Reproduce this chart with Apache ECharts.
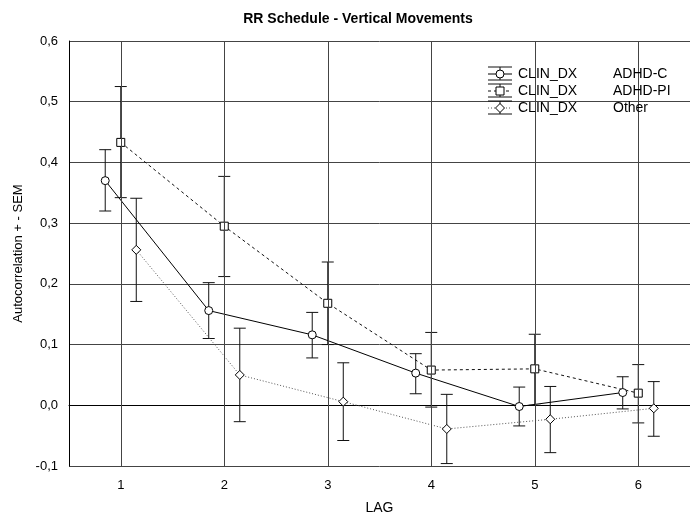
<!DOCTYPE html>
<html>
<head>
<meta charset="utf-8">
<script src="https://cdn.jsdelivr.net/npm/echarts@6/dist/echarts.min.js"></script>
<style>html,body{margin:0;padding:0;background:#fff}#c{width:690px;height:520px}</style>
</head>
<body>
<div id="c"></div>
<script>
const lags = [1, 2, 3, 4, 5, 6];
const yTicks = [-0.1, 0, 0.1, 0.2, 0.3, 0.4, 0.5, 0.6];
const legendVar = 'CLIN_DX';
const groups = ['ADHD-C', 'ADHD-PI', 'Other'];

const adhdC     = [0.370, 0.156, 0.116, 0.053, -0.002, 0.021];
const adhdCHigh = [0.421, 0.202, 0.153, 0.085, 0.030, 0.047];
const adhdCLow  = [0.320, 0.110, 0.078, 0.019, -0.034, -0.006];

const adhdPI     = [0.433, 0.295, 0.168, 0.058, 0.060, 0.020];
const adhdPIHigh = [0.525, 0.377, 0.236, 0.120, 0.117, 0.067];
const adhdPILow  = [0.342, 0.212, 0.100, -0.003, 0.000, -0.029];

const other     = [0.256, 0.050, 0.006, -0.039, -0.023, -0.005];
const otherHigh = [0.341, 0.127, 0.070, 0.018, 0.031, 0.039];
const otherLow  = [0.171, -0.027, -0.058, -0.096, -0.078, -0.051];

const FONT = 'Liberation Sans, Arial, sans-serif';
const seriesDefs = [
  {name: groups[0], mean: adhdC, hi: adhdCHigh, lo: adhdCLow, off: -0.15, symbol: 'circle', size: 8, dash: 'solid', lineColor: '#000'},
  {name: groups[1], mean: adhdPI, hi: adhdPIHigh, lo: adhdPILow, off: 0, symbol: 'rect', size: 8, dash: [3, 3], lineColor: '#111'},
  {name: groups[2], mean: other, hi: otherHigh, lo: otherLow, off: 0.15, symbol: 'diamond', size: 9, dash: [1, 2], lineColor: '#555'}
];

const series = [];
// vertical grid lines
series.push({
  type: 'scatter', data: [], z: 1, silent: true,
  markLine: {
    silent: true, symbol: 'none', animation: false,
    label: {show: false},
    lineStyle: {color: '#444', type: 'solid', width: 1},
    data: lags.map(v => ({xAxis: v}))
  }
});

seriesDefs.forEach(d => {
  series.push({
    type: 'custom', name: legendVar + ' ' + d.name, z: 2, silent: true,
    data: lags.map((l, i) => [l + d.off, d.lo[i], d.hi[i]]),
    encode: {x: 0, y: [1, 2]},
    renderItem: function (params, api) {
      const x = api.value(0);
      const lo = api.coord([x, api.value(1)]);
      const hi = api.coord([x, api.value(2)]);
      const hw = 6;
      const st = {stroke: '#111', lineWidth: 1};
      return {
        type: 'group',
        children: [
          {type: 'line', shape: {x1: lo[0], y1: lo[1], x2: hi[0], y2: hi[1]}, style: st},
          {type: 'line', shape: {x1: lo[0] - hw, y1: lo[1], x2: lo[0] + hw, y2: lo[1]}, style: st},
          {type: 'line', shape: {x1: hi[0] - hw, y1: hi[1], x2: hi[0] + hw, y2: hi[1]}, style: st}
        ]
      };
    }
  });
  series.push({
    type: 'line', name: legendVar + ' ' + d.name, z: 3,
    data: lags.map((l, i) => [l + d.off, d.mean[i]]),
    symbol: d.symbol, symbolSize: d.size, showSymbol: true,
    itemStyle: {color: '#fff', borderColor: '#000', borderWidth: 1},
    lineStyle: {color: d.lineColor, width: 1, type: d.dash},
    emphasis: {disabled: true}
  });
});

// legend drawn as graphic
const legendEls = [];
const lx = 500, ly0 = 74, lstep = 17;
seriesDefs.forEach((d, i) => {
  const cy = ly0 + i * lstep;
  const st = {stroke: '#111', lineWidth: 1};
  legendEls.push({type: 'line', shape: {x1: lx - 12, y1: cy - 7, x2: lx + 12, y2: cy - 7}, style: st, z: 10});
  legendEls.push({type: 'line', shape: {x1: lx - 12, y1: cy + 6, x2: lx + 12, y2: cy + 6}, style: st, z: 10});
  legendEls.push({type: 'line', shape: {x1: lx, y1: cy - 7, x2: lx, y2: cy + 6}, style: st, z: 10});
  legendEls.push({type: 'line', shape: {x1: lx - 12, y1: cy, x2: lx + 12, y2: cy},
    style: {stroke: d.lineColor, lineWidth: 1, lineDash: d.dash === 'solid' ? null : d.dash}, z: 10});
  let sym;
  if (d.symbol === 'circle') sym = {type: 'circle', shape: {cx: lx, cy: cy, r: 4}};
  else if (d.symbol === 'rect') sym = {type: 'rect', shape: {x: lx - 4, y: cy - 4, width: 8, height: 8}};
  else sym = {type: 'polygon', shape: {points: [[lx, cy - 4.5], [lx + 4.5, cy], [lx, cy + 4.5], [lx - 4.5, cy]]}};
  sym.style = {fill: '#fff', stroke: '#000', lineWidth: 1};
  sym.z = 11;
  legendEls.push(sym);
  legendEls.push({type: 'text', x: 518, y: cy, z: 11,
    style: {text: legendVar, font: '14px ' + FONT, fill: '#000', verticalAlign: 'middle', align: 'left'}});
  legendEls.push({type: 'text', x: 613, y: cy, z: 11,
    style: {text: d.name, font: '14px ' + FONT, fill: '#000', verticalAlign: 'middle', align: 'left'}});
});

const chart = echarts.init(document.getElementById('c'), null, {renderer: 'canvas'});
chart.setOption({
  animation: false,
  backgroundColor: '#fff',
  title: {
    text: 'RR Schedule - Vertical Movements',
    left: 353, top: 7, textAlign: 'center',
    textStyle: {fontSize: 14, fontWeight: 'bold', fontFamily: FONT, color: '#000'}
  },
  grid: {left: 69, top: 41, width: 626, height: 429, containLabel: false},
  xAxis: {
    type: 'value', min: 0.5, max: 6.5,
    name: 'LAG', nameLocation: 'middle', nameGap: 35,
    nameTextStyle: {fontSize: 14, fontFamily: FONT, color: '#000'},
    axisLine: {show: true, lineStyle: {color: '#000', width: 1}},
    axisTick: {show: false, customValues: lags},
    axisLabel: {customValues: lags, fontSize: 13, fontFamily: FONT, color: '#000', margin: 13,
      formatter: v => String(Math.round(v))},
    splitLine: {show: false}
  },
  yAxis: {
    type: 'value', min: -0.1, max: 0.6, interval: 0.1,
    name: 'Autocorrelation + - SEM', nameLocation: 'middle', nameGap: 44,
    nameTextStyle: {fontSize: 13, fontFamily: FONT, color: '#000'},
    axisLine: {show: true, lineStyle: {color: '#000', width: 1}},
    axisTick: {show: false},
    axisLabel: {fontSize: 13, fontFamily: FONT, color: '#000', margin: 11,
      formatter: v => v.toFixed(1).replace('.', ',')},
    splitLine: {show: true, lineStyle: {color: '#444', width: 1, type: 'solid'}}
  },
  graphic: legendEls,
  series: series
});
</script>
</body>
</html>
